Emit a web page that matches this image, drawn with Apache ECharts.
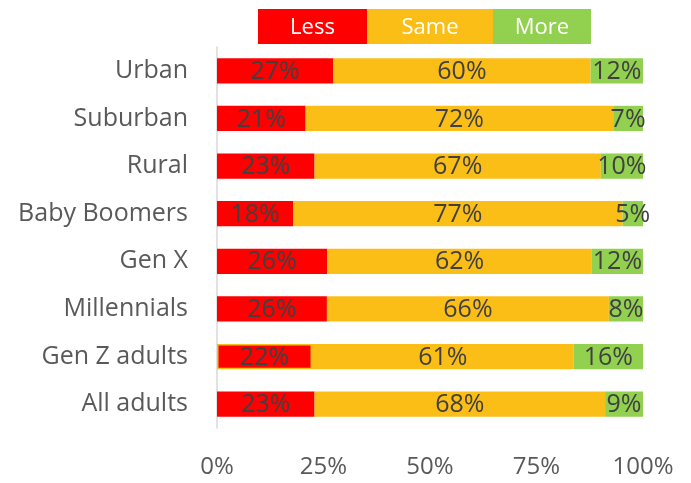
<!DOCTYPE html>
<html>
<head>
<meta charset="utf-8">
<script src="https://cdn.jsdelivr.net/npm/echarts@6/dist/echarts.min.js"></script>
<style>
  html, body { margin: 0; padding: 0; background: #fff; }
  #main { width: 691px; height: 483px; }
</style>
</head>
<body>
<div id="main"></div>
<script>
// categories top to bottom
var categories = ['Urban', 'Suburban', 'Rural', 'Baby Boomers', 'Gen X', 'Millennials', 'Gen Z adults', 'All adults'];
// shares in percent (labels show them rounded)
var lessValues = [27.3, 20.8, 22.9, 17.9, 25.9, 25.8, 22.3, 22.9];
var sameValues = [60.4, 72.2, 67.2, 77.3, 62.1, 66.2, 61.4, 68.2];
var moreValues = [12.3, 7.0, 9.9, 4.8, 12.0, 8.0, 16.3, 8.9];
var seriesNames = ['Less', 'Same', 'More'];
var xTicks = [0, 25, 50, 75, 100];

var colors = ['#FF0000', '#FBBE17', '#92D050'];
var font = '"Open Sans"';

var chart = echarts.init(document.getElementById('main'));

function makeSeries(name, values, color) {
    var data = [];
    for (var i = 0; i < values.length; i++) {
        var item = { value: values[i] };
        // the Gen Z "Less" bar has a thin yellow outline in the original
        if (name === 'Less' && categories[i] === 'Gen Z adults') {
            item.itemStyle = { borderColor: '#FBBE17', borderWidth: 1.5 };
        }
        data.push(item);
    }
    return {
        name: name,
        type: 'bar',
        stack: 'total',
        barWidth: '53%',
        itemStyle: { color: color },
        label: {
            show: true,
            position: 'inside',
            offset: [0, 1],
            formatter: function (p) { return Math.round(p.value) + '%'; },
            color: '#404040',
            fontFamily: font,
            fontSize: 25
        },
        emphasis: { disabled: true },
        data: data
    };
}

// legend drawn as coloured boxes with white text
var legendWidths = [109, 126, 98];
var legendGraphic = [];
var lx = 258;
for (var k = 0; k < seriesNames.length; k++) {
    legendGraphic.push({
        type: 'group',
        left: lx,
        top: 9,
        children: [
            { type: 'rect', shape: { x: 0, y: 0, width: legendWidths[k], height: 35 }, style: { fill: colors[k] } },
            { type: 'text', x: legendWidths[k] / 2, y: 19, style: {
                text: seriesNames[k], fill: '#fff', font: '22px ' + font,
                textAlign: 'center', textVerticalAlign: 'middle' } }
        ]
    });
    lx += legendWidths[k];
}

var option = {
    animation: false,
    grid: { left: 217, right: 48, top: 47, bottom: 55, containLabel: false },
    graphic: legendGraphic,
    xAxis: {
        type: 'value',
        min: 0,
        max: 100,
        interval: 25,
        axisLine: { show: false },
        axisTick: { show: false },
        splitLine: { show: false },
        axisLabel: {
            margin: 27,
            color: '#595959',
            fontFamily: font,
            fontSize: 24,
            formatter: function (v) { return xTicks.indexOf(v) >= 0 ? v + '%' : ''; }
        }
    },
    yAxis: {
        type: 'category',
        inverse: true,
        data: categories,
        axisLine: { show: true, lineStyle: { color: '#D9D9D9', width: 1.5 } },
        axisTick: { show: false },
        axisLabel: {
            margin: 29,
            color: '#595959',
            fontFamily: font,
            fontSize: 25
        }
    },
    series: [
        makeSeries('Less', lessValues, colors[0]),
        makeSeries('Same', sameValues, colors[1]),
        makeSeries('More', moreValues, colors[2])
    ]
};

chart.setOption(option);
</script>
</body>
</html>
